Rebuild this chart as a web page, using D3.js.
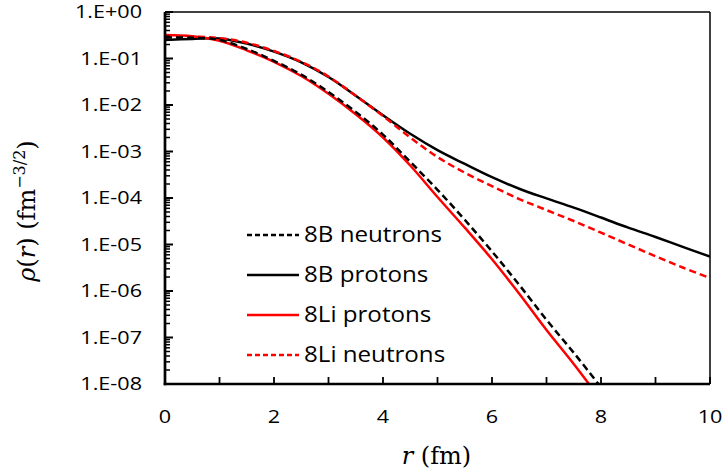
<!DOCTYPE html>
<html>
<head>
<meta charset="utf-8">
<script src="https://cdn.jsdelivr.net/npm/d3@7"></script>
<style>
	body { margin: 0; background: #fff; }
	svg { display: block; font-family: 'Open Sans', 'Noto Sans', sans-serif; }
</style>
</head>
<body>
<svg></svg>
<script>
// radius values (fm)
const radius = [0, 0.5, 1, 1.5, 2, 2.5, 3, 3.5, 4, 4.5, 5, 5.5, 6, 6.5, 7, 7.5, 8, 8.5, 9, 9.5, 10];

const b8Neutrons = [0.28, 0.28, 0.25, 0.16, 0.089, 0.045, 0.019, 7.1e-3, 2.3e-3, 6.0e-4, 1.5e-4, 3.4e-5, 7.1e-6, 1.35e-6, 2.4e-7, 4.7e-8, 8.5e-9];
const b8Protons = [0.251, 0.263, 0.269, 0.209, 0.141, 0.083, 0.040, 0.0158, 6.0e-3, 2.4e-3, 1.07e-3, 5.4e-4, 2.8e-4, 1.58e-4, 9.8e-5, 6.2e-5, 3.8e-5, 2.3e-5, 1.45e-5, 8.9e-6, 5.5e-6];
const li8Protons = [0.32, 0.30, 0.24, 0.15, 0.085, 0.042, 0.0174, 6.3e-3, 2.0e-3, 5.0e-4, 1.05e-4, 2.3e-5, 4.8e-6, 8.7e-7, 1.45e-7, 2.7e-8, 4.5e-9];
const li8Neutrons = [0.295, 0.295, 0.275, 0.219, 0.145, 0.085, 0.041, 0.0158, 5.8e-3, 2.0e-3, 7.6e-4, 3.5e-4, 1.8e-4, 9.5e-5, 5.5e-5, 3.2e-5, 1.8e-5, 1.0e-5, 5.6e-6, 3.2e-6, 1.9e-6];

const seriesNames = ['8B neutrons', '8B protons', '8Li protons', '8Li neutrons'];
const xTicks = [0, 2, 4, 6, 8, 10];
const yTickLabels = ['1.E+00', '1.E-01', '1.E-02', '1.E-03', '1.E-04', '1.E-05', '1.E-06', '1.E-07', '1.E-08'];

const svg = d3.select('svg')
	.attr('width', 723)
	.attr('height', 475);

const width = +svg.attr('width'),
	height = +svg.attr('height');

const render = () => {
	const margin = { top: 12, right: 13, bottom: 91, left: 165 },
		innerWidth = width - margin.left - margin.right,
		innerHeight = height - margin.top - margin.bottom;

	const xScale = d3.scaleLinear()
		.domain([0, 10])
		.range([0, innerWidth]);

	const yScale = d3.scaleLog()
		.domain([1e-8, 1])
		.range([innerHeight, 0]);

	const g = svg.append('g')
		.attr('transform', `translate(${margin.left}, ${margin.top})`);

	g.append('clipPath').attr('id', 'plot-clip')
		.append('rect')
		.attr('width', innerWidth)
		.attr('height', innerHeight);

	// curves
	const series = [
		{ name: seriesNames[0], values: b8Neutrons, color: '#000', dash: '7,4' },
		{ name: seriesNames[1], values: b8Protons, color: '#000', dash: null },
		{ name: seriesNames[2], values: li8Protons, color: '#ff0000', dash: null },
		{ name: seriesNames[3], values: li8Neutrons, color: '#ff0000', dash: '7,4' }
	];

	const line = d3.line()
		.x(d => xScale(d[0]))
		.y(d => yScale(d[1]))
		.curve(d3.curveCatmullRom.alpha(0.5));

	const drawOrder = [1, 3, 2, 0];
	g.append('g').attr('clip-path', 'url(#plot-clip)')
		.selectAll('path')
		.data(drawOrder.map(i => series[i]))
		.enter()
		.append('path')
			.attr('d', s => line(s.values.map((v, i) => [radius[i], v])))
			.attr('fill', 'none')
			.attr('stroke', s => s.color)
			.attr('stroke-width', 2.5)
			.attr('stroke-dasharray', s => s.dash);

	// frame (top and right thin)
	g.append('line').attr('x1', 0).attr('x2', innerWidth).attr('y1', 0).attr('y2', 0)
		.attr('stroke', '#000').attr('stroke-width', 1.5);
	g.append('line').attr('x1', innerWidth).attr('x2', innerWidth).attr('y1', 0).attr('y2', innerHeight)
		.attr('stroke', '#000').attr('stroke-width', 1.5);

	// y axis: major ticks inward, minor ticks inward
	const majors = d3.range(0, 9).map(k => Math.pow(10, -k));
	const minors = [];
	majors.slice(1).forEach(m => d3.range(2, 10).forEach(j => minors.push(m * j)));

	const yAxisG = g.append('g');
	yAxisG.selectAll('.minor')
		.data(minors)
		.enter().append('line')
			.attr('class', 'minor')
			.attr('x1', 0).attr('x2', 5)
			.attr('y1', d => yScale(d)).attr('y2', d => yScale(d))
			.attr('stroke', '#000').attr('stroke-width', 1.5);
	yAxisG.selectAll('.major')
		.data(majors)
		.enter().append('line')
			.attr('class', 'major')
			.attr('x1', 0).attr('x2', 8)
			.attr('y1', d => yScale(d)).attr('y2', d => yScale(d))
			.attr('stroke', '#000').attr('stroke-width', 2);
	// labels are slightly stretched horizontally in the original
	yAxisG.selectAll('text')
		.data(majors)
		.enter().append('text')
			.attr('transform', d => `translate(-23, ${yScale(d)}) scale(1.2, 1)`)
			.attr('dy', '0.35em')
			.attr('text-anchor', 'end')
			.attr('font-size', 18)
			.attr('fill', '#000')
			.text((d, i) => yTickLabels[i]);
	yAxisG.append('line')
		.attr('x1', 0).attr('x2', 0).attr('y1', 0).attr('y2', innerHeight + 1.3)
		.attr('stroke', '#000').attr('stroke-width', 2.7);

	// x axis
	const xAxisG = g.append('g').attr('transform', `translate(0, ${innerHeight})`);
	xAxisG.selectAll('.tick')
		.data(d3.range(0, 11))
		.enter().append('line')
			.attr('class', 'tick')
			.attr('x1', d => xScale(d)).attr('x2', d => xScale(d))
			.attr('y1', 0).attr('y2', -7)
			.attr('stroke', '#000').attr('stroke-width', 1.8);
	xAxisG.selectAll('text')
		.data(xTicks)
		.enter().append('text')
			.attr('transform', d => `translate(${xScale(d)}, 33) scale(1.2, 1)`)
			.attr('dy', '0.35em')
			.attr('text-anchor', 'middle')
			.attr('font-size', 18)
			.attr('fill', '#000')
			.text(d => d);
	xAxisG.append('line')
		.attr('x1', -1.3).attr('x2', innerWidth).attr('y1', 0).attr('y2', 0)
		.attr('stroke', '#000').attr('stroke-width', 2.7);

	// axis titles
	const xTitle = g.append('text')
		.attr('x', innerWidth / 2 - 1)
		.attr('y', innerHeight + 80)
		.attr('text-anchor', 'middle')
		.attr('font-family', "'DejaVu Serif', 'Liberation Serif', serif")
		.attr('font-size', 24)
		.attr('fill', '#000');
	xTitle.append('tspan').attr('font-style', 'italic').text('r');
	xTitle.append('tspan').text(' (fm)');

	const yTitle = g.append('text')
		.attr('transform', `translate(${-130}, ${innerHeight / 2 + 13}) rotate(-90)`)
		.attr('text-anchor', 'middle')
		.attr('font-family', "'DejaVu Serif', 'Liberation Serif', serif")
		.attr('font-size', 24)
		.attr('fill', '#000');
	yTitle.append('tspan').attr('font-style', 'italic').text('ρ');
	yTitle.append('tspan').text('(');
	yTitle.append('tspan').attr('font-style', 'italic').text('r');
	yTitle.append('tspan').text(')  (fm');
	yTitle.append('tspan').attr('font-size', 16).attr('dy', -10).text('−3/2');
	yTitle.append('tspan').attr('dy', 10).text(')');

	// legend
	const legend = g.append('g').attr('transform', 'translate(82, 223)');
	const rows = legend.selectAll('g')
		.data(series)
		.enter().append('g')
			.attr('transform', (d, i) => `translate(0, ${i * 40})`);
	rows.append('line')
		.attr('x1', 0).attr('x2', 52)
		.attr('stroke', d => d.color)
		.attr('stroke-width', 2.5)
		.attr('stroke-dasharray', d => d.dash ? '5,3' : null);
	rows.append('text')
		.attr('transform', 'translate(57, 0) scale(1.15, 1)')
		.attr('dy', '0.35em')
		.attr('font-size', 21)
		.attr('fill', '#000')
		.text(d => d.name);
};

render();
</script>
</body>
</html>
